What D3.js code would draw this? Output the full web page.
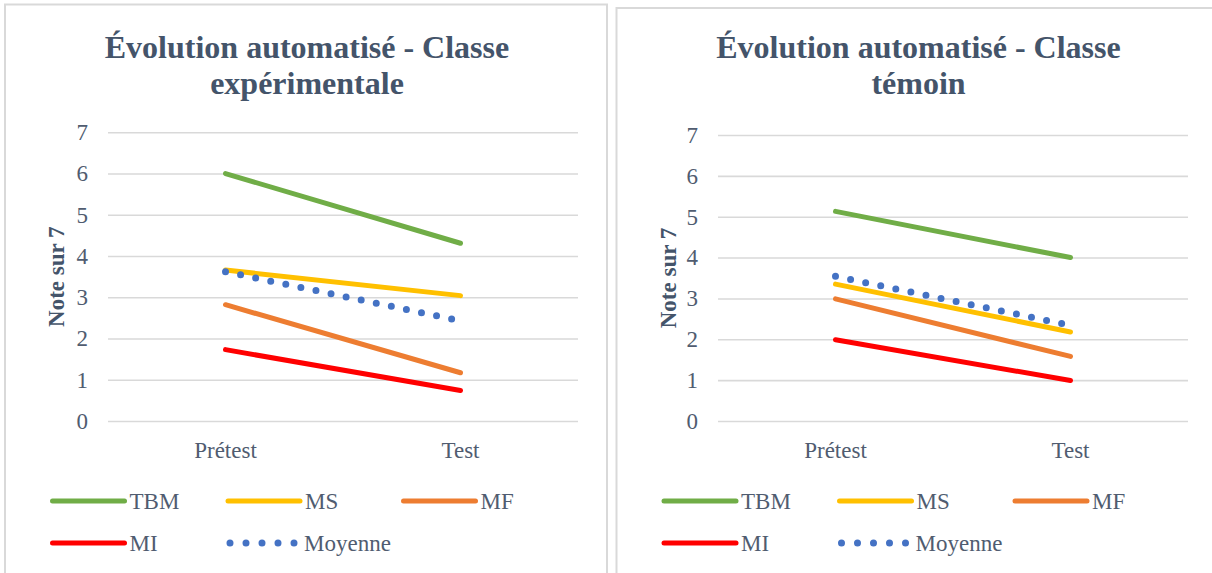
<!DOCTYPE html>
<html>
<head>
<meta charset="utf-8">
<script src="https://cdn.jsdelivr.net/npm/d3@7"></script>
<style>
  body { margin: 0; background: #fff; }
  text { font-family: "Liberation Serif", "Times New Roman", serif; }
</style>
</head>
<body>
<div id="chart"></div>
<script>
// categories and tick labels
var categories = ['Prétest', 'Test'];
var yTicks = [0, 1, 2, 3, 4, 5, 6, 7];
var seriesNames = ['TBM', 'MS', 'MF', 'MI', 'Moyenne'];
var seriesColors = ['#70AD47', '#FFC000', '#ED7D31', '#FF0000', '#4472C4'];

// classe expérimentale
var expTBM = [6.0, 4.31];
var expMS = [3.66, 3.04];
var expMF = [2.82, 1.17];
var expMI = [1.73, 0.74];
var expMoy = [3.62, 2.43];

// classe témoin
var temTBM = [5.13, 4.0];
var temMS = [3.35, 2.18];
var temMF = [2.99, 1.58];
var temMI = [1.99, 0.99];
var temMoy = [3.54, 2.34];

(() => {

	var W = 1212, H = 573;
	var serif = '"Liberation Serif", "Times New Roman", serif';
	var titleColor = '#44546A',
		textColor = '#505c70',
		gridColor = '#d9d9d9';

	var svg = d3.select('#chart')
				.append('svg')
				.attr('width', W)
				.attr('height', H);

	var panels = [
		{ x: 5, y: 4.5, w: 602, title: ['Évolution automatisé - Classe', 'expérimentale'],
		  xr: [108, 578], yr: [421, 132.3],
		  data: [expTBM, expMS, expMF, expMI, expMoy] },
		{ x: 616.5, y: 8, w: 620, title: ['Évolution automatisé - Classe', 'témoin'],
		  xr: [718, 1188], yr: [421, 135],
		  data: [temTBM, temMS, temMF, temMI, temMoy] }
	];

	panels.forEach(p => {

		// frame
		svg.append('rect')
			.attr('x', p.x)
			.attr('y', p.y)
			.attr('width', p.w)
			.attr('height', 600)
			.attr('fill', 'none')
			.attr('stroke', gridColor)
			.attr('stroke-width', 2);

		var tx = p.x + 302;

		svg.append('text')
			.attr('x', tx)
			.attr('text-anchor', 'middle')
			.attr('font-family', serif)
			.attr('font-size', 32)
			.attr('font-weight', 'bold')
			.attr('fill', titleColor)
			.selectAll('tspan')
			.data(p.title)
			.enter()
				.append('tspan')
				.attr('x', tx)
				.attr('y', (d, i) => 58 + i * 36)
				.text(d => d);

		var x = d3.scaleBand()
				.domain(categories)
				.range(p.xr);

		var y = d3.scaleLinear()
				.domain([0, 7])
				.range(p.yr);

		// grid
		svg.append('g')
			.attr('transform', 'translate(' + p.xr[0] + ',0)')
			.call(d3.axisLeft(y).tickValues(yTicks).tickSize(-(p.xr[1] - p.xr[0])).tickFormat(''))
			.call(g => g.select('.domain').remove())
			.call(g => g.selectAll('line').attr('stroke', gridColor).attr('stroke-width', 1.6));

		// y labels
		svg.append('g')
			.attr('transform', 'translate(' + (p.xr[0] - 20) + ',0)')
			.call(d3.axisLeft(y).tickValues(yTicks).tickFormat(d3.format('d')).tickSize(0).tickPadding(0))
			.call(g => g.select('.domain').remove())
			.call(g => g.selectAll('text')
				.attr('font-size', 23)
				.attr('fill', textColor)
				.attr('font-family', serif));

		// x labels
		svg.append('g')
			.attr('transform', 'translate(0,' + (p.yr[0] + 21) + ')')
			.call(d3.axisBottom(x).tickSize(0).tickPadding(0))
			.call(g => g.select('.domain').remove())
			.call(g => g.selectAll('text')
				.attr('font-size', 23)
				.attr('fill', textColor)
				.attr('font-family', serif));

		// y title
		svg.append('text')
			.attr('transform', 'translate(' + (p.x + 59) + ',' + ((p.yr[0] + p.yr[1]) / 2) + ') rotate(-90)')
			.attr('text-anchor', 'middle')
			.attr('font-family', serif)
			.attr('font-size', 23)
			.attr('font-weight', 'bold')
			.attr('fill', titleColor)
			.text('Note sur 7');

		var line = d3.line()
				.x((d, i) => x(categories[i]) + x.bandwidth() / 2)
				.y(d => y(d));

		p.data.forEach((vals, si) => {
			var dotted = seriesNames[si] === 'Moyenne';
			svg.append('path')
				.datum(vals)
				.attr('d', line)
				.attr('fill', 'none')
				.attr('stroke', seriesColors[si])
				.attr('stroke-width', dotted ? 7 : 5)
				.attr('stroke-linecap', 'round')
				.attr('stroke-dasharray', dotted ? '0 15.4' : null);
		});

		// legend
		var leg = svg.append('g')
				.attr('transform', 'translate(' + (p.x + 47.5) + ',0)');

		var items = leg.selectAll('g')
				.data(seriesNames)
				.enter()
					.append('g')
					.attr('transform', (d, i) => 'translate(' + ((i % 3) * 175.5) + ',' + (i < 3 ? 501 : 543) + ')');

		items.append('line')
			.attr('x1', d => d === 'Moyenne' ? 2 : 0)
			.attr('x2', d => d === 'Moyenne' ? 68 : 72)
			.attr('stroke', (d, i) => seriesColors[i])
			.attr('stroke-width', d => d === 'Moyenne' ? 7 : 5)
			.attr('stroke-linecap', 'round')
			.attr('stroke-dasharray', d => d === 'Moyenne' ? '0 16' : null);

		items.append('text')
			.attr('x', d => d === 'Moyenne' ? 76 : 77)
			.attr('y', 8)
			.attr('font-family', serif)
			.attr('font-size', 23)
			.attr('fill', textColor)
			.text(d => d);
	});

})();
</script>
</body>
</html>
